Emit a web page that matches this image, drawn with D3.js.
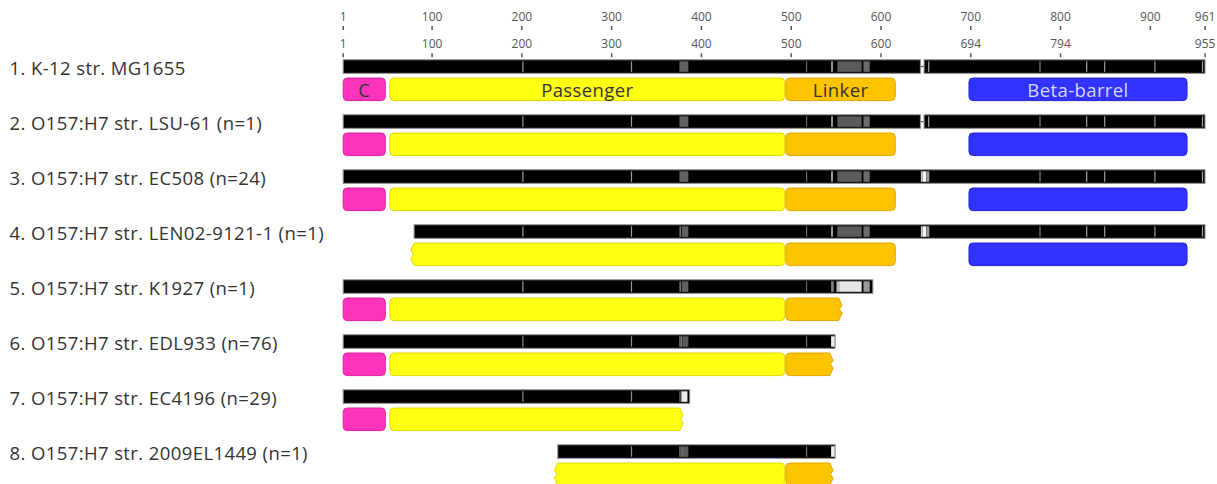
<!DOCTYPE html>
<html>
<head>
<meta charset="utf-8">
<script src="https://cdn.jsdelivr.net/npm/d3@7"></script>
<style>
  html, body { margin: 0; padding: 0; background: #fff; }
  svg { display: block; font-family: "Open Sans", sans-serif; }
  .axis path.domain { display: none; }
  .axis line { stroke: #555; stroke-width: 1.5; }
  .axis text { fill: #555; font-size: 12px; font-family: "Open Sans", sans-serif; }
</style>
</head>
<body>
<svg id="chart" width="1217" height="484"></svg>
<script>
// Alignment column ticks (top) and K-12 reference residue numbering (second row)
const alignTicks = [1, 100, 200, 300, 400, 500, 600, 700, 800, 900, 961];
const refTickColumns = [1, 100, 200, 300, 400, 500, 600, 700, 800, 961];
const refTickLabels = ["1", "100", "200", "300", "400", "500", "600", "694", "794", "955"];

const strainLabels = [
  "1. K-12 str. MG1655",
  "2. O157:H7 str. LSU-61 (n=1)",
  "3. O157:H7 str. EC508 (n=24)",
  "4. O157:H7 str. LEN02-9121-1 (n=1)",
  "5. O157:H7 str. K1927 (n=1)",
  "6. O157:H7 str. EDL933 (n=76)",
  "7. O157:H7 str. EC4196 (n=29)",
  "8. O157:H7 str. 2009EL1449 (n=1)"
];

// Aligned stretches of each sequence [first column, last column]
const alignedSegments = [
  [[1, 644], [648, 961]],
  [[1, 644], [648, 961]],
  [[1, 961]],
  [[80, 961]],
  [[1, 591]],
  [[1, 549]],
  [[1, 387]],
  [[240, 549]]
];

// Variable columns: [first, last, shade] where shade 0 = conserved (black) .. 1 = unique (white)
const variantMarks = [
  [[201,201,0.6],[322,322,0.6],[376,385,0.38],[517,517,0.4],[545,546,0.65],[552,578,0.36],[581,587,0.42],
   [653,653,0.65],[777,777,0.5],[829,829,0.65],[849,849,0.6],[905,905,0.6],[958,958,0.65]],
  [[201,201,0.6],[322,322,0.6],[376,385,0.38],[517,517,0.4],[545,546,0.65],[552,578,0.36],[581,587,0.42],
   [653,653,0.65],[777,777,0.5],[829,829,0.65],[849,849,0.6],[905,905,0.6],[958,958,0.65]],
  [[201,201,0.6],[322,322,0.6],[376,385,0.38],[517,517,0.4],[545,546,0.65],[552,578,0.36],[581,587,0.42],
   [645,646,0.8],[647,650,0.95],[651,652,0.6],[653,653,0.65],[777,777,0.5],[829,829,0.65],[849,849,0.6],[905,905,0.6],[958,958,0.65]],
  [[201,201,0.6],[322,322,0.6],[376,377,0.45],[379,385,0.38],[517,517,0.4],[545,546,0.65],[552,578,0.36],[581,587,0.42],
   [645,646,0.8],[647,650,0.95],[651,652,0.6],[653,653,0.65],[777,777,0.5],[829,829,0.65],[849,849,0.6],[905,905,0.6],[958,958,0.65]],
  [[201,201,0.6],[322,322,0.6],[376,377,0.45],[379,385,0.38],[517,517,0.4],[545,547,0.5],[551,553,0.75],[554,578,0.9],[581,587,0.6]],
  [[201,201,0.55],[322,322,0.55],[376,376,0.6],[378,378,0.6],[380,385,0.35],[517,517,0.45],[545,548,0.93]],
  [[201,201,0.55],[322,322,0.55],[376,376,0.45],[378,378,0.75],[379,384,0.93]],
  [[322,322,0.55],[376,376,0.55],[378,379,0.45],[380,385,0.35],[517,517,0.45],[545,548,0.93]]
];

const domainNames = ["C", "Passenger", "Linker", "Beta-barrel"];
const domainFill = ["#ff33bb", "#ffff11", "#ffc400", "#3333ff"];
const domainStroke = ["#dd1f9c", "#e2d800", "#e4a500", "#2222dd"];
const domainTextColor = ["#333", "#333", "#333", "#d6d6ff"];

// Domain spans per sequence: [domain index, first, last, truncated side ("" | "L" | "R")]
const domainSpans = [
  [[0,1,48,""],[1,53,493,""],[2,494,616,""],[3,698,941,""]],
  [[0,1,48,""],[1,53,493,""],[2,494,616,""],[3,698,941,""]],
  [[0,1,48,""],[1,53,493,""],[2,494,616,""],[3,698,941,""]],
  [[1,80,493,"L"],[2,494,616,""],[3,698,941,""]],
  [[0,1,48,""],[1,53,493,""],[2,494,553,"R"]],
  [[0,1,48,""],[1,53,493,""],[2,494,543,"R"]],
  [[0,1,48,""],[1,53,376,"R"]],
  [[1,240,493,"L"],[2,494,543,"R"]]
];
const labelledRow = 0;

const svg = d3.select("#chart");

// column c occupies [x(c), x(c+1)]
const x = d3.scaleLinear().domain([1, 962]).range([342.7, 1205.5]);
const rowTop = d3.scaleLinear().domain([0, 1]).range([59.3, 114.3]);
const shade = d3.scaleLinear().domain([0, 1]).range(["#000000", "#ffffff"]);
const barH = 14.5, domOffset = 18.2, domH = 23.6;

// Axes
svg.append("g").attr("class", "axis").attr("transform", "translate(0,30)")
  .call(d3.axisTop(x).tickValues(alignTicks).tickFormat(d3.format("d")).tickSize(4).tickPadding(5));
svg.append("g").attr("class", "axis").attr("transform", "translate(0,57.3)")
  .call(d3.axisTop(x).tickValues(refTickColumns).tickFormat((d, i) => refTickLabels[i]).tickSize(4).tickPadding(5));

// Box path with rounded corners, or zig-zag edge on a truncated side
function boxPath(x0, x1, y0, h, trunc) {
  const r = 4, y1 = y0 + h, a = 3.4;
  const p = d3.path();
  if (trunc === "L") {
    p.moveTo(x0, y0);
  } else {
    p.moveTo(x0 + r, y0);
  }
  if (trunc === "R") {
    p.lineTo(x1, y0);
    p.lineTo(x1 + a, y0 + h / 3);
    p.lineTo(x1 + a * 0.2, y0 + h / 2);
    p.lineTo(x1 + a, y0 + 2 * h / 3);
    p.lineTo(x1, y1);
  } else {
    p.lineTo(x1 - r, y0);
    p.arcTo(x1, y0, x1, y0 + r, r);
    p.lineTo(x1, y1 - r);
    p.arcTo(x1, y1, x1 - r, y1, r);
  }
  if (trunc === "L") {
    p.lineTo(x0, y1);
    p.lineTo(x0 - a, y0 + 2 * h / 3);
    p.lineTo(x0 - a * 0.2, y0 + h / 2);
    p.lineTo(x0 - a, y0 + h / 3);
    p.closePath();
  } else {
    p.lineTo(x0 + r, y1);
    p.arcTo(x0, y1, x0, y1 - r, r);
    p.lineTo(x0, y0 + r);
    p.arcTo(x0, y0, x0 + r, y0, r);
    p.closePath();
  }
  return p.toString();
}

const rows = svg.selectAll("g.row").data(strainLabels).join("g")
  .attr("class", "row")
  .attr("transform", (d, i) => `translate(0,${rowTop(i)})`);

rows.append("text")
  .attr("x", 9.5).attr("y", barH / 2 + 0.5)
  .attr("dominant-baseline", "central")
  .attr("font-size", 18.5).attr("letter-spacing", 0.4).attr("fill", "#333")
  .text(d => d);

rows.each(function (label, i) {
  const g = d3.select(this);
  const segs = alignedSegments[i];

  // joins between aligned stretches (gaps)
  for (let k = 1; k < segs.length; k++) {
    g.append("line")
      .attr("x1", x(segs[k - 1][1] + 1)).attr("x2", x(segs[k][0]))
      .attr("y1", barH / 2).attr("y2", barH / 2)
      .attr("stroke", "#555").attr("stroke-width", 1.2);
  }

  g.selectAll("rect.seg").data(segs).join("rect")
    .attr("class", "seg")
    .attr("x", d => x(d[0]) + 0.5)
    .attr("width", d => x(d[1] + 1) - x(d[0]) - 1)
    .attr("y", 0.5).attr("height", barH - 1)
    .attr("fill", "#000").attr("stroke", "#8a8a8a").attr("stroke-width", 1);

  g.selectAll("rect.mark").data(variantMarks[i]).join("rect")
    .attr("class", "mark")
    .attr("x", d => x(d[0]))
    .attr("width", d => Math.max(1.2, x(d[1] + 1) - x(d[0])))
    .attr("y", 2).attr("height", barH - 4)
    .attr("fill", d => shade(d[2]));

  const dg = g.append("g").attr("transform", `translate(0,${domOffset})`);
  dg.selectAll("path").data(domainSpans[i]).join("path")
    .attr("d", d => boxPath(x(d[1]) + 0.5, x(d[2] + 1) - 0.5, 0.5, domH - 1, d[3]))
    .attr("fill", d => domainFill[d[0]])
    .attr("stroke", d => domainStroke[d[0]])
    .attr("stroke-width", 1);

  if (i === labelledRow) {
    dg.selectAll("text").data(domainSpans[i]).join("text")
      .attr("x", d => (x(d[1]) + x(d[2] + 1)) / 2)
      .attr("y", domH / 2 + 0.5)
      .attr("text-anchor", "middle")
      .attr("dominant-baseline", "central")
      .attr("font-size", 18.5)
      .attr("letter-spacing", 0.4)
      .attr("fill", d => domainTextColor[d[0]])
      .text(d => domainNames[d[0]]);
  }
});
</script>
</body>
</html>
